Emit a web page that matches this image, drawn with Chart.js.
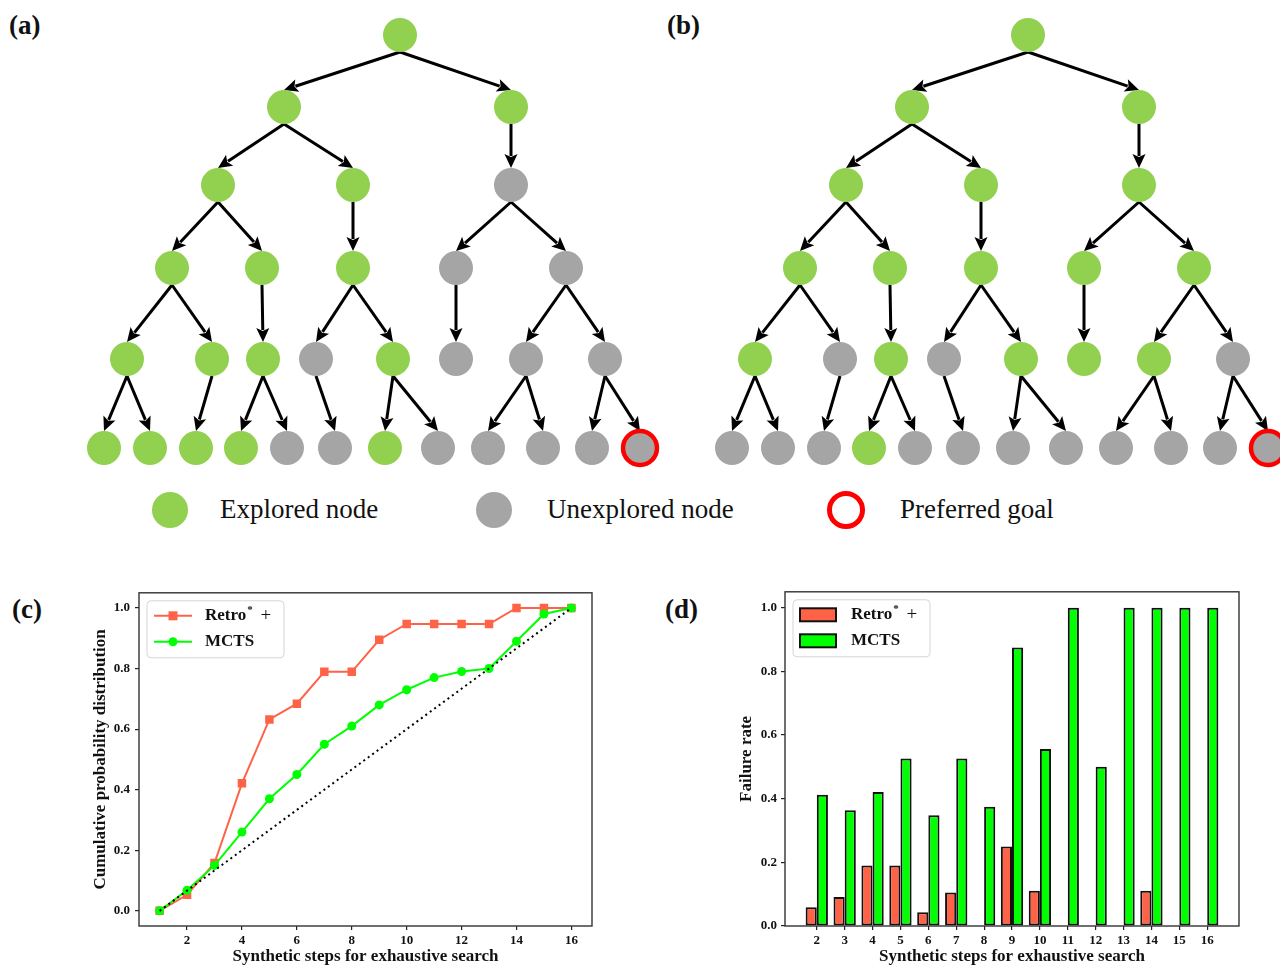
<!DOCTYPE html>
<html>
<head>
<meta charset="utf-8">
<title>Search trees and synthetic step statistics</title>
<script src="https://cdn.jsdelivr.net/npm/chart.js@4.4.1/dist/chart.umd.min.js"></script>
<style>
    body { margin: 0; width: 1280px; height: 967px; background: #fff; position: relative; overflow: hidden;
           font-family: "Liberation Serif", "DejaVu Serif", serif; color: #111; }
    canvas { position: absolute; }
    .lbl { position: absolute; font-weight: bold; font-size: 27px; line-height: 30px; }
    .key { position: absolute; font-size: 27px; line-height: 30px; white-space: nowrap; }
    .dot { position: absolute; width: 36px; height: 36px; border-radius: 50%; }
</style>
</head>
<body>

<div class="lbl" style="left:9px;top:10px">(a)</div>
<div class="lbl" style="left:667px;top:10px">(b)</div>
<div class="lbl" style="left:12px;top:594px">(c)</div>
<div class="lbl" style="left:665px;top:594px">(d)</div>

<canvas id="treeA" width="680" height="480" style="left:0;top:0"></canvas>
<canvas id="treeB" width="652" height="480" style="left:628px;top:0"></canvas>

<!-- legend of the two trees -->
<div class="dot" style="left:152px;top:492px;background:#92d050"></div>
<div class="key" style="left:220px;top:494px">Explored node</div>
<div class="dot" style="left:476px;top:492px;background:#a5a5a5"></div>
<div class="key" style="left:547px;top:494px">Unexplored node</div>
<div class="dot" style="left:827px;top:491px;width:38px;height:38px;box-sizing:border-box;border:5px solid #ff0000"></div>
<div class="key" style="left:900px;top:494px">Preferred goal</div>

<canvas id="cdfChart" width="580" height="387" style="left:40px;top:580px"></canvas>
<canvas id="failChart" width="600" height="387" style="left:680px;top:580px"></canvas>

<script>
// ---------- tree layout (same shape in a and b) ----------
const levelDepth = [35, 107, 185, 268, 359, 448];
const nodeX = [400,
    284, 511,
    218, 353, 511,
    172, 262, 353, 456, 566,
    127, 212, 263, 316, 393, 456, 526, 605,
    104, 150, 196, 241, 287, 335, 385, 438, 488, 543, 592, 640];
const nodeLevel = [0, 1, 1, 2, 2, 2, 3, 3, 3, 3, 3,
    4, 4, 4, 4, 4, 4, 4, 4,
    5, 5, 5, 5, 5, 5, 5, 5, 5, 5, 5, 5];
const nodeParent = [-1, 0, 0, 1, 1, 2, 3, 3, 4, 5, 5,
    6, 6, 7, 8, 8, 9, 10, 10,
    11, 11, 12, 13, 13, 14, 15, 15, 17, 17, 18, 18];
const exploredA = [1, 1, 1, 1, 1, 0, 1, 1, 1, 0, 0,
    1, 1, 1, 0, 1, 0, 0, 0,
    1, 1, 1, 1, 0, 0, 1, 0, 0, 0, 0, 0];
const exploredB = [1, 1, 1, 1, 1, 1, 1, 1, 1, 1, 1,
    1, 0, 1, 0, 1, 1, 1, 0,
    0, 0, 0, 1, 0, 0, 0, 0, 0, 0, 0, 0];
const goalNode = 30;

// ---------- (c) cumulative distribution ----------
const steps = [1, 2, 3, 4, 5, 6, 7, 8, 9, 10, 11, 12, 13, 14, 15, 16];
const retroCdf = [0, 0.053, 0.158, 0.421, 0.632, 0.684, 0.789, 0.789, 0.895, 0.947, 0.947, 0.947, 0.947, 1, 1, 1];
const mctsCdf = [0, 0.068, 0.15, 0.26, 0.37, 0.45, 0.55, 0.61, 0.68, 0.73, 0.77, 0.79, 0.80, 0.89, 0.98, 1];
const diagX = [1, 16];
const diagY = [0, 1];
const cdfXTicks = [2, 4, 6, 8, 10, 12, 14, 16];
const cdfYTicks = [0, 0.2, 0.4, 0.6, 0.8, 1.0];

// ---------- (d) failure rate ----------
const barSteps = [2, 3, 4, 5, 6, 7, 8, 9, 10, 11, 12, 13, 14, 15, 16];
const retroFail = [0.059, 0.091, 0.19, 0.19, 0.043, 0.105, 0, 0.25, 0.111, 0, 0, 0, 0.111, 0, 0];
const mctsFail = [0.412, 0.364, 0.421, 0.526, 0.348, 0.526, 0.375, 0.875, 0.556, 1, 0.5, 1, 1, 1, 1];
const failYTicks = [0, 0.2, 0.4, 0.6, 0.8, 1.0];

const seriesNames = ['Retro* +', 'MCTS'];

const GREEN_NODE = '#92d050';
const GRAY_NODE = '#a5a5a5';
const RED = '#ff6347';
const LIME = '#00ff00';
const SERIF = '"Liberation Serif", "DejaVu Serif", serif';
const NODE_R = 17;

// arrows between nodes, drawn under the points
const treeArrows = {
    id: 'treeArrows',
    beforeDatasetsDraw(chart) {
        const { ctx, scales: { x, y } } = chart;
        ctx.save();
        ctx.strokeStyle = '#000';
        ctx.fillStyle = '#000';
        ctx.lineWidth = 3;
        nodeParent.forEach((p, i) => {
            if (p < 0) return;
            const x0 = x.getPixelForValue(nodeX[p]);
            const y0 = y.getPixelForValue(levelDepth[nodeLevel[p]]) + NODE_R;
            const x1 = x.getPixelForValue(nodeX[i]);
            const y1 = y.getPixelForValue(levelDepth[nodeLevel[i]]) - NODE_R;
            const a = Math.atan2(y1 - y0, x1 - x0);
            const head = 14, half = 6.5;
            const bx = x1 - head * Math.cos(a), by = y1 - head * Math.sin(a);
            ctx.beginPath();
            ctx.moveTo(x0, y0);
            ctx.lineTo(bx + 2 * Math.cos(a), by + 2 * Math.sin(a));
            ctx.stroke();
            ctx.beginPath();
            ctx.moveTo(x1, y1);
            ctx.lineTo(bx + half * Math.sin(a), by - half * Math.cos(a));
            ctx.lineTo(bx + 3 * Math.cos(a), by + 3 * Math.sin(a));
            ctx.lineTo(bx - half * Math.sin(a), by + half * Math.cos(a));
            ctx.closePath();
            ctx.fill();
        });
        ctx.restore();
    }
};

function makeTree(id, explored) {
    const cv = document.getElementById(id);
    return new Chart(cv, {
        type: 'scatter',
        data: {
            datasets: [{
                data: nodeX.map((v, i) => ({ x: v, y: levelDepth[nodeLevel[i]] })),
                pointRadius: NODE_R,
                pointHoverRadius: NODE_R,
                pointBackgroundColor: explored.map(e => e ? GREEN_NODE : GRAY_NODE),
                pointBorderColor: explored.map((e, i) => i === goalNode ? '#ff0000' : 'rgba(0,0,0,0)'),
                pointBorderWidth: explored.map((e, i) => i === goalNode ? 4.5 : 0),
                clip: false
            }]
        },
        options: {
            responsive: false,
            animation: false,
            events: [],
            layout: { padding: 0, autoPadding: false },
            plugins: { legend: { display: false }, tooltip: { enabled: false } },
            scales: {
                x: { type: 'linear', display: false, min: 0, max: cv.width },
                y: { type: 'linear', display: false, min: 0, max: cv.height, reverse: true }
            }
        },
        plugins: [treeArrows]
    });
}

makeTree('treeA', exploredA);
makeTree('treeB', exploredB);

// matplotlib-like axis
function axis(min, max, tickValues, fmt, title, titlePad, tickPad, size, isY) {
    return {
        type: 'linear',
        min: min,
        max: max,
        offset: false,
        afterBuildTicks: (a) => { a.ticks = tickValues.map(v => ({ value: v })); },
        afterFit: (a) => { if (isY) a.width = size; else a.height = size; },
        grid: { drawOnChartArea: false, drawTicks: true, tickLength: 4, color: '#222', lineWidth: 1.2, offset: false },
        border: { display: false },
        ticks: {
            color: '#111',
            padding: tickPad,
            maxRotation: 0,
            autoSkip: false,
            font: { family: SERIF, size: 13, weight: 'bold' },
            callback: fmt
        },
        title: {
            display: true,
            text: title,
            color: '#111',
            padding: { top: titlePad, bottom: 0 },
            font: { family: SERIF, size: 17, weight: 'bold' }
        }
    };
}

function drawLegendText(ctx, text, tx, ty) {
    ctx.fillStyle = '#111';
    ctx.textBaseline = 'middle';
    ctx.textAlign = 'left';
    const parts = text.split('*');
    ctx.font = 'bold 17px ' + SERIF;
    ctx.fillText(parts[0], tx, ty);
    if (parts.length < 2) return;
    let w = ctx.measureText(parts[0]).width + 1;
    ctx.font = 'bold 11px ' + SERIF;
    ctx.fillText('*', tx + w, ty - 6);
    w += ctx.measureText('*').width + 3;
    ctx.font = '19px ' + SERIF;
    ctx.fillText(parts[1], tx + w, ty);
}

// frame on four sides plus the boxed legend in the upper left corner
function frameLegend(drawSymbol) {
    return {
        id: 'frameLegend',
        afterDraw(chart) {
            const { ctx, chartArea: ca } = chart;
            ctx.save();
            ctx.strokeStyle = '#333';
            ctx.lineWidth = 1.4;
            ctx.strokeRect(ca.left, ca.top, ca.right - ca.left, ca.bottom - ca.top);

            const bx = ca.left + 8, by = ca.top + 8, bw = 137, bh = 57;
            ctx.beginPath();
            ctx.roundRect(bx, by, bw, bh, 4);
            ctx.fillStyle = 'rgba(255,255,255,0.85)';
            ctx.fill();
            ctx.strokeStyle = '#d5d5d5';
            ctx.lineWidth = 1;
            ctx.stroke();

            chart.data.datasets.slice(0, 2).forEach((ds, k) => {
                const rowY = by + 15 + k * 26;
                drawSymbol(ctx, ds, bx + 7, bx + 45, rowY);
                drawLegendText(ctx, ds.label, bx + 58, rowY);
            });
            ctx.restore();
        }
    };
}

// (c) line chart
new Chart(document.getElementById('cdfChart'), {
    type: 'scatter',
    data: {
        datasets: [
            {
                label: seriesNames[0],
                data: steps.map((s, i) => ({ x: s, y: retroCdf[i] })),
                showLine: true,
                borderColor: RED,
                backgroundColor: RED,
                borderWidth: 2,
                pointStyle: 'rect',
                pointRadius: 6,
                pointBorderWidth: 0,
                order: 2
            },
            {
                label: seriesNames[1],
                data: steps.map((s, i) => ({ x: s, y: mctsCdf[i] })),
                showLine: true,
                borderColor: LIME,
                backgroundColor: LIME,
                borderWidth: 2,
                pointStyle: 'circle',
                pointRadius: 4.5,
                pointBorderWidth: 0,
                order: 1
            },
            {
                label: 'diagonal',
                data: diagX.map((v, i) => ({ x: v, y: diagY[i] })),
                showLine: true,
                borderColor: '#000',
                borderWidth: 2,
                borderDash: [2, 3.5],
                pointRadius: 0,
                order: 0
            }
        ]
    },
    options: {
        responsive: false,
        animation: false,
        events: [],
        layout: { padding: { left: 0, top: 9, right: 28, bottom: 0 }, autoPadding: false },
        plugins: { legend: { display: false }, tooltip: { enabled: false } },
        scales: {
            x: axis(0.25, 16.75, cdfXTicks, v => String(v), 'Synthetic steps for exhaustive search', 0, 3, 41, false),
            y: axis(-0.05, 1.05, cdfYTicks, v => v.toFixed(1), 'Cumulative probability distribution', 50, 5, 99, true)
        }
    },
    plugins: [frameLegend((ctx, ds, x0, x1, y) => {
        ctx.strokeStyle = ds.borderColor;
        ctx.lineWidth = 2;
        ctx.beginPath(); ctx.moveTo(x0, y); ctx.lineTo(x1, y); ctx.stroke();
        ctx.fillStyle = ds.backgroundColor;
        const cx = (x0 + x1) / 2;
        ctx.beginPath();
        if (ds.pointStyle === 'rect') ctx.rect(cx - 4.5, y - 4.5, 9, 9);
        else ctx.arc(cx, y, 4.5, 0, Math.PI * 2);
        ctx.fill();
    })]
});

// (d) grouped bars
new Chart(document.getElementById('failChart'), {
    type: 'bar',
    data: {
        datasets: [
            {
                label: seriesNames[0],
                data: barSteps.map((s, i) => ({ x: s, y: retroFail[i] })),
                backgroundColor: RED
            },
            {
                label: seriesNames[1],
                data: barSteps.map((s, i) => ({ x: s, y: mctsFail[i] })),
                backgroundColor: LIME
            }
        ]
    },
    options: {
        responsive: false,
        animation: false,
        events: [],
        layout: { padding: { left: 0, top: 9, right: 41, bottom: 0 }, autoPadding: false },
        datasets: {
            bar: {
                borderColor: '#111',
                borderWidth: 2,
                borderSkipped: false,
                categoryPercentage: 0.8,
                barPercentage: 1.0
            }
        },
        plugins: { legend: { display: false }, tooltip: { enabled: false } },
        scales: {
            x: axis(0.86, 17.14, barSteps, v => String(v), 'Synthetic steps for exhaustive search', 0, 3, 41, false),
            y: axis(0, 1.05, failYTicks, v => v.toFixed(1), 'Failure rate', 56, 4, 105, true)
        }
    },
    plugins: [frameLegend((ctx, ds, x0, x1, y) => {
        ctx.fillStyle = ds.backgroundColor;
        ctx.fillRect(x0, y - 6.5, x1 - 2 - x0, 13);
        ctx.strokeStyle = '#111';
        ctx.lineWidth = 2;
        ctx.strokeRect(x0, y - 6.5, x1 - 2 - x0, 13);
    })]
});
</script>
</body>
</html>
